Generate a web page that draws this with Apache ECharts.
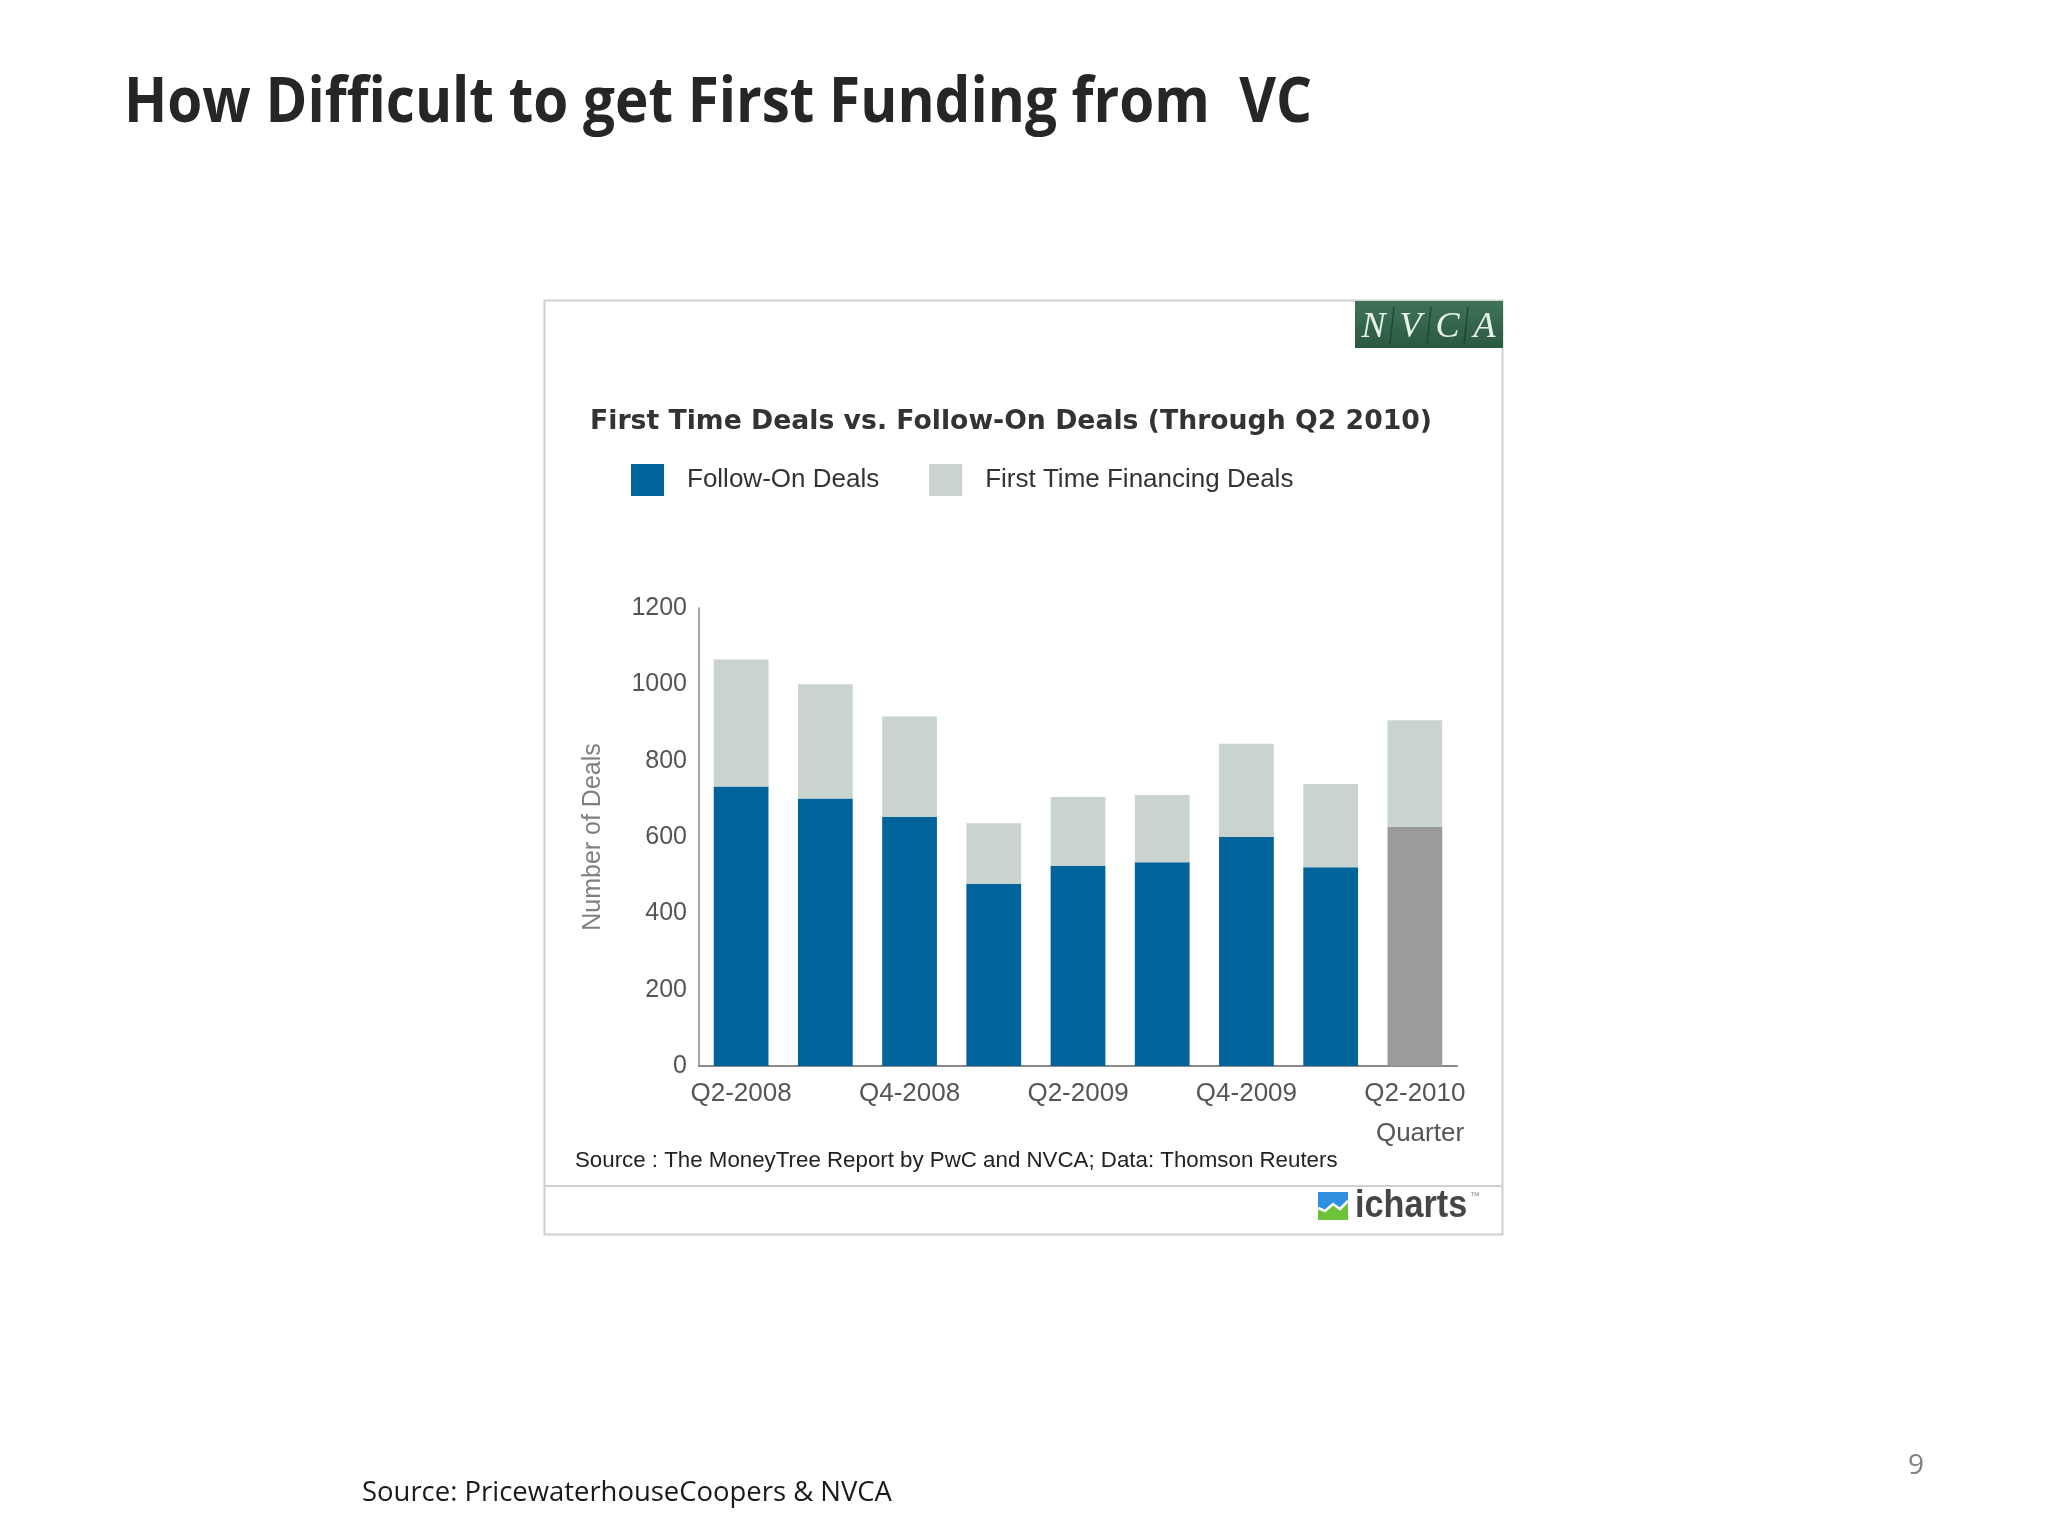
<!DOCTYPE html>
<html>
<head>
<meta charset="utf-8">
<script src="https://cdn.jsdelivr.net/npm/echarts@6/dist/echarts.min.js"></script>
<style>
html,body{margin:0;padding:0;background:#fff;}
#c{width:2048px;height:1536px;}
</style>
</head>
<body>
<div id="c"></div>
<script>
const categories = ['Q2-2008','Q3-2008','Q4-2008','Q1-2009','Q2-2009','Q3-2009','Q4-2009','Q1-2010','Q2-2010'];
const followOnDeals = [732, 701, 653, 477, 525, 534, 600, 521, 626];
const firstTimeDeals = [333, 299, 263, 159, 180, 176, 244, 218, 280];
const yTicks = [0, 200, 400, 600, 800, 1000, 1200];

const BLUE = '#00649b';
const LIGHT = '#c9d4ce';
const GREY = '#9b9b9b';

const chart = echarts.init(document.getElementById('c'));

const followData = followOnDeals.map((v, i) =>
  i === followOnDeals.length - 1 ? { value: v, itemStyle: { color: GREY } } : v);

const nvcaLetters = ['N','V','C','A'];
const nvcaX0 = 1355, nvcaW = 148, nvcaY0 = 301, nvcaH = 47;
const nvcaGraphics = [
  { type: 'rect', shape: { x: nvcaX0, y: nvcaY0, width: nvcaW, height: nvcaH },
    style: { fill: new echarts.graphic.LinearGradient(0,0,0,1,[{offset:0,color:'#3f7359'},{offset:1,color:'#2a5941'}]) } }
];
nvcaLetters.forEach((L, i) => {
  const cw = nvcaW / 4;
  nvcaGraphics.push({ type: 'text', style: { text: L, x: nvcaX0 + cw * i + cw / 2, y: nvcaY0 + nvcaH / 2 + 3,
    font: 'italic 36px "Liberation Serif", "DejaVu Serif", serif', fill: '#e9f0ea', align: 'center', verticalAlign: 'middle' } });
  if (i > 0) nvcaGraphics.push({ type: 'line', shape: { x1: nvcaX0 + cw * i + 2, y1: nvcaY0 + 6, x2: nvcaX0 + cw * i - 2, y2: nvcaY0 + nvcaH - 4 },
    style: { stroke: '#1f4632', lineWidth: 1.5 } });
});

chart.setOption({
  animation: false,
  backgroundColor: '#ffffff',
  textStyle: { fontFamily: '"Liberation Sans", Arial, sans-serif' },
  title: {
    text: 'First Time Deals vs. Follow-On Deals (Through Q2 2010)',
    left: 585, top: 404,
    textStyle: { fontSize: 26.7, fontWeight: 'bold', color: '#333333', fontFamily: '"DejaVu Sans", "Liberation Sans", sans-serif' }
  },
  legend: {
    left: 626, top: 459,
    itemWidth: 33, itemHeight: 32, itemGap: 50,
    icon: 'rect',
    data: [
      { name: 'Follow-On Deals', itemStyle: { color: BLUE } },
      { name: 'First Time Financing Deals', itemStyle: { color: LIGHT } }
    ],
    textStyle: { fontSize: 26, color: '#333333', padding: [0, 0, 0, 18] }
  },
  grid: { left: 699, top: 608, width: 758, height: 458, containLabel: false },
  xAxis: {
    type: 'category',
    data: categories,
    axisLine: { show: true, lineStyle: { color: '#8a8a8a', width: 2 } },
    axisTick: { show: false },
    axisLabel: { interval: 1, fontSize: 26, color: '#555555', margin: 15 },
    splitLine: { show: false }
  },
  yAxis: {
    type: 'value',
    min: yTicks[0], max: yTicks[yTicks.length - 1], interval: 200,
    name: 'Number of Deals',
    nameLocation: 'middle', nameGap: 93,
    nameTextStyle: { fontSize: 25, color: '#808080' },
    axisLine: { show: true, lineStyle: { color: '#8a8a8a', width: 1.5 } },
    axisTick: { show: false },
    axisLabel: { fontSize: 25, color: '#555555', margin: 12, formatter: v => String(v) },
    splitLine: { show: false }
  },
  series: [
    { name: 'Follow-On Deals', type: 'bar', stack: 'deals', barWidth: '65%',
      itemStyle: { color: BLUE }, data: followData },
    { name: 'First Time Financing Deals', type: 'bar', stack: 'deals', barWidth: '65%',
      itemStyle: { color: LIGHT }, data: firstTimeDeals }
  ],
  graphic: [
    { type: 'text', x: 124, y: 104, scaleX: 0.913, z: 10,
      style: { text: 'How Difficult to get First Funding from  VC', x: 0, y: 0,
        font: 'bold 62px "Open Sans", "Noto Sans", sans-serif', fill: '#262626', verticalAlign: 'middle' } },
    { type: 'rect', shape: { x: 544.5, y: 300.5, width: 958, height: 934 },
      style: { fill: 'none', stroke: '#d0d0d0', lineWidth: 2 }, z: -1 },
    { type: 'line', shape: { x1: 545, y1: 1186, x2: 1503, y2: 1186 }, style: { stroke: '#d0d0d0', lineWidth: 2 } },
    ...nvcaGraphics,
    { type: 'text', style: { text: 'Quarter', x: 1420, y: 1134, font: '26px "Liberation Sans", Arial, sans-serif',
        fill: '#555555', align: 'center', verticalAlign: 'middle' } },
    { type: 'text', style: { text: 'Source : The MoneyTree Report by PwC and NVCA; Data: Thomson Reuters', x: 575, y: 1161,
        font: '22.3px "Liberation Sans", Arial, sans-serif', fill: '#222222', verticalAlign: 'middle' } },
    { type: 'rect', shape: { x: 1318, y: 1192, width: 30, height: 28 }, style: { fill: '#6cc33a' } },
    { type: 'polygon', shape: { points: [[1318,1192],[1348,1192],[1348,1200],[1340,1208],[1333,1203],[1325,1210],[1318,1207]] },
      style: { fill: '#2f8fe0' } },
    { type: 'polyline', shape: { points: [[1318,1208],[1325,1211],[1333,1204],[1340,1209],[1348,1201]] },
      style: { stroke: '#ffffff', lineWidth: 2.5 } },
    { type: 'text', x: 1355, y: 1207, scaleX: 0.9,
      style: { text: 'icharts', x: 0, y: 0, font: 'bold 38px "Liberation Sans", Arial, sans-serif',
        fill: '#454545', verticalAlign: 'middle' } },
    { type: 'text', style: { text: '™', x: 1470, y: 1196, font: '10px "Liberation Sans", Arial, sans-serif', fill: '#888', verticalAlign: 'middle' } },
    { type: 'text', x: 362, y: 1493, scaleX: 0.98,
      style: { text: 'Source: PricewaterhouseCoopers & NVCA', x: 0, y: 0,
        font: '28px "Open Sans", "Noto Sans", sans-serif', fill: '#1a1a1a', verticalAlign: 'middle' } },
    { type: 'text', style: { text: '9', x: 1916, y: 1466, font: '28px "Open Sans", "Noto Sans", sans-serif',
        fill: '#808080', align: 'center', verticalAlign: 'middle' } }
  ]
});
</script>
</body>
</html>
